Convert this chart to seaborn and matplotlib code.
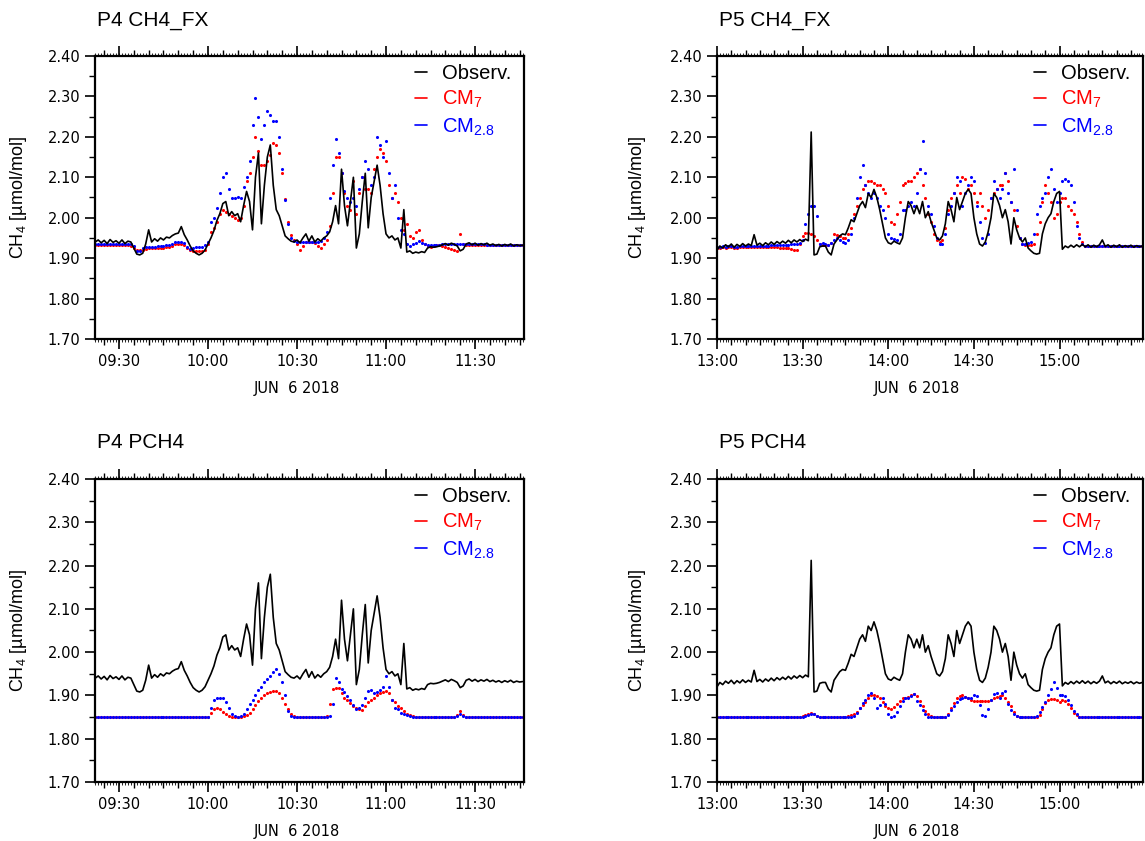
import pandas as pd
import matplotlib
matplotlib.use('Agg')
import matplotlib.pyplot as plt
import matplotlib.dates as mdates
from matplotlib.lines import Line2D
import seaborn as sns

sns.set_style('ticks')
plt.rcParams['font.family'] = ['Liberation Sans', 'DejaVu Sans']
plt.rcParams['mathtext.fontset'] = 'custom'
plt.rcParams['mathtext.rm'] = 'Liberation Sans'
for k in ('text.color', 'axes.labelcolor', 'xtick.color', 'ytick.color', 'axes.edgecolor'):
    plt.rcParams[k] = 'black'

p4_obs = [1.940, 1.945, 1.938, 1.944, 1.936, 1.946, 1.939, 1.943,
          1.937, 1.945, 1.936, 1.942, 1.940, 1.925, 1.910, 1.908, 1.912, 1.935,
          1.970, 1.940, 1.948, 1.942, 1.950, 1.945, 1.952, 1.950, 1.956, 1.960,
          1.962, 1.978, 1.958, 1.945, 1.930, 1.918, 1.912, 1.908, 1.912, 1.920,
          1.935, 1.950, 1.968, 1.993, 2.010, 2.035, 2.040, 2.005, 2.015, 2.005,
          2.010, 1.990, 2.030, 2.065, 2.040, 1.970, 2.100, 2.160, 1.985, 2.080,
          2.150, 2.180, 2.080, 2.020, 2.005, 1.980, 1.955, 1.948, 1.942, 1.940,
          1.945, 1.938, 1.950, 1.960, 1.942, 1.955, 1.940, 1.948, 1.942, 1.950,
          1.955, 1.965, 1.990, 2.030, 1.985, 2.120, 2.030, 1.980, 2.040, 2.100,
          1.925, 1.960, 2.040, 2.110, 1.975, 2.050, 2.090, 2.130, 2.080, 2.010,
          1.960, 1.950, 1.955, 1.945, 1.950, 1.925, 2.020, 1.915, 1.918, 1.912,
          1.915, 1.913, 1.916, 1.914, 1.925, 1.928, 1.927, 1.928, 1.930, 1.933,
          1.936, 1.932, 1.937, 1.934, 1.930, 1.918, 1.922, 1.935, 1.938, 1.933,
          1.937, 1.932, 1.936, 1.933, 1.937, 1.932, 1.935, 1.931, 1.934, 1.930,
          1.934, 1.931, 1.935, 1.930, 1.933, 1.931, 1.932]

p4_fx_cm7 = [1.933] * 8 + [
    1.933, 1.933, 1.932, 1.932, 1.930, 1.925, 1.920, 1.919, 1.921, 1.923,
    1.924, 1.924, 1.924, 1.924, 1.925, 1.926, 1.927, 1.928, 1.930, 1.934,
    1.935, 1.935, 1.933, 1.925, 1.919, 1.917, 1.917, 1.917, 1.918, 1.920,
    1.935, 1.965, 1.975, 1.990, 2.010, 2.020, 2.015, 2.010, 2.005, 2.000,
    1.995, 2.000, 2.030, 2.090, 2.110, 2.150, 2.199, 2.165, 2.130, 2.130,
    2.140, 2.155, 2.186, 2.180, 2.160, 2.110, 2.047, 1.990, 1.958, 1.945,
    1.935, 1.920, 1.930, 1.940, 1.940, 1.940, 1.938, 1.930, 1.925, 1.935,
    1.945, 1.980, 2.060, 2.150, 2.150, 2.110, 2.060, 2.030, 2.020, 2.090,
    2.010, 2.060, 2.100, 2.070, 2.070, 2.060, 2.120, 2.150, 2.170, 2.160,
    2.140, 2.080, 2.050, 2.060, 2.040, 2.000, 1.970, 1.985, 1.955, 1.950,
    1.965, 1.970, 1.945, 1.935, 1.930, 1.928, 1.930, 1.932, 1.932, 1.930,
    1.928, 1.925, 1.922, 1.920, 1.918, 1.960, 1.935, 1.933, 1.933, 1.932] + [1.932] * 17

p4_fx_cm28 = [1.936, 1.936, 1.935, 1.935, 1.936, 1.935, 1.935, 1.935,
              1.935, 1.935, 1.935, 1.935, 1.934, 1.930, 1.918, 1.917, 1.925, 1.928,
              1.928, 1.928, 1.928, 1.929, 1.930, 1.931, 1.932, 1.933, 1.935, 1.940,
              1.940, 1.940, 1.938, 1.928, 1.922, 1.925, 1.928, 1.928, 1.928, 1.932,
              1.940, 1.990, 2.000, 2.025, 2.060, 2.100, 2.110, 2.070, 2.050, 2.050,
              2.052, 2.050, 2.075, 2.100, 2.140, 2.230, 2.297, 2.250, 2.195, 2.230,
              2.265, 2.255, 2.240, 2.240, 2.200, 2.120, 2.045, 1.985, 1.950, 1.942,
              1.940, 1.940, 1.939, 1.940, 1.940, 1.940, 1.939, 1.940, 1.942, 1.950,
              1.965, 2.050, 2.130, 2.195, 2.160, 2.110, 2.065, 2.050, 2.040, 2.050,
              2.030, 2.070, 2.100, 2.140, 2.120, 2.080, 2.100, 2.200, 2.180, 2.150,
              2.190, 2.110, 2.050, 2.080, 2.000, 1.970, 1.960, 1.935, 1.930, 1.935,
              1.938, 1.942, 1.938, 1.935, 1.933, 1.932, 1.932, 1.932, 1.933, 1.934,
              1.935, 1.935, 1.935, 1.934, 1.934, 1.935, 1.936, 1.936, 1.935, 1.935,
              1.935, 1.934, 1.934, 1.934, 1.933, 1.933, 1.933, 1.933, 1.933, 1.933,
              1.933, 1.932, 1.932, 1.932, 1.932, 1.932, 1.932]

p4_p_cm7 = [1.85] * 39 + [
    1.860, 1.868, 1.870, 1.868, 1.862, 1.857, 1.853, 1.851, 1.850,
    1.850, 1.851, 1.852, 1.855, 1.860, 1.868, 1.878, 1.888, 1.895, 1.900,
    1.905, 1.908, 1.910, 1.910, 1.905, 1.895, 1.880, 1.868, 1.858, 1.852] + [1.85] * 10 + [
    1.852, 1.880, 1.914, 1.918, 1.917, 1.905, 1.895, 1.890, 1.883, 1.875,
    1.870, 1.868, 1.866, 1.876, 1.885, 1.890, 1.895, 1.900, 1.905, 1.908,
    1.910, 1.905, 1.890, 1.885, 1.875, 1.870, 1.865, 1.858, 1.855, 1.852,
    1.851] + [1.85] * 13 + [1.855, 1.865, 1.855] + [1.85] * 20

p4_p_cm28 = [1.85] * 39 + [
    1.870, 1.890, 1.895, 1.895, 1.893, 1.885, 1.870, 1.857, 1.852,
    1.850, 1.852, 1.858, 1.868, 1.880, 1.890, 1.900, 1.912, 1.920, 1.930,
    1.938, 1.945, 1.955, 1.962, 1.950, 1.930, 1.900, 1.865, 1.852, 1.850] + [1.85] * 10 + [
    1.851, 1.853, 1.880, 1.940, 1.930, 1.915, 1.908, 1.898, 1.890, 1.878,
    1.868, 1.870, 1.878, 1.893, 1.910, 1.912, 1.905, 1.908, 1.912, 1.920,
    1.945, 1.920, 1.890, 1.870, 1.868, 1.860, 1.858, 1.855, 1.852, 1.850] + [1.85] * 14 + [
    1.852, 1.858, 1.852] + [1.85] * 20

# P5 (13:00 .. 15:29, 1-min)
p5_obs = [1.920, 1.930, 1.925, 1.933, 1.928, 1.935, 1.927, 1.934, 1.929, 1.936,
          1.930, 1.935, 1.931, 1.958, 1.932, 1.937, 1.931, 1.938, 1.933, 1.940,
          1.934, 1.941, 1.936, 1.942, 1.937, 1.944, 1.938, 1.945, 1.940, 1.946,
          1.941, 1.947, 1.943, 2.212, 1.908, 1.910, 1.928, 1.930, 1.930, 1.915,
          1.908, 1.935, 1.945, 1.955, 1.960, 1.958, 1.975, 1.995, 1.990, 2.010,
          2.030, 2.040, 2.025, 2.060, 2.050, 2.070, 2.050, 2.020, 1.985, 1.950,
          1.938, 1.935, 1.942, 1.938, 1.935, 1.950, 2.000, 2.040, 2.030, 2.010,
          2.030, 2.010, 2.040, 2.000, 2.015, 1.990, 1.970, 1.950, 1.945, 1.955,
          1.985, 2.040, 2.020, 1.990, 2.050, 2.020, 2.040, 2.060, 2.070, 2.060,
          2.000, 1.960, 1.935, 1.930, 1.940, 1.965, 2.000, 2.060, 2.050, 2.030,
          2.000, 2.020, 1.990, 1.935, 2.000, 1.970, 1.950, 1.940, 1.950, 1.925,
          1.918, 1.912, 1.910, 1.912, 1.960, 1.985, 2.000, 2.010, 2.040, 2.060,
          2.065, 1.922, 1.930, 1.926, 1.932, 1.927, 1.933, 1.928, 1.934, 1.928,
          1.933, 1.927, 1.932, 1.928, 1.933, 1.945, 1.929, 1.933, 1.927, 1.932,
          1.928, 1.933, 1.927, 1.931, 1.928, 1.932, 1.927, 1.931, 1.928, 1.930]

p5_fx_cm7 = [1.926, 1.926, 1.927, 1.926, 1.927, 1.927, 1.926, 1.926, 1.927, 1.927,
             1.927, 1.927, 1.928, 1.927, 1.927, 1.928, 1.928, 1.928, 1.927, 1.927,
             1.927, 1.927, 1.926, 1.926, 1.925, 1.924, 1.922, 1.920, 1.920, 1.935,
             1.955, 1.962, 1.963, 1.960, 1.955, 1.945, 1.935, 1.933, 1.933, 1.933,
             1.938, 1.960, 1.958, 1.955, 1.950, 1.950, 1.960, 1.975, 2.010, 2.030,
             2.050, 2.070, 2.080, 2.090, 2.090, 2.085, 2.080, 2.080, 2.070, 2.060,
             2.030, 1.990, 1.985, 2.010, 2.040, 2.080, 2.085, 2.090, 2.090, 2.100,
             2.110, 2.120, 2.080, 2.050, 2.010, 1.990, 1.960, 1.945, 1.940, 1.945,
             1.975, 2.020, 2.050, 2.060, 2.080, 2.060, 2.100, 2.095, 2.070, 2.080,
             2.060, 2.040, 2.060, 2.030, 2.000, 2.020, 2.050, 2.060, 2.070, 2.080,
             2.080, 2.110, 2.090, 2.040, 2.020, 1.980, 1.950, 1.935, 1.933, 1.933,
             1.933, 1.935, 1.960, 1.990, 2.040, 2.080, 2.060, 2.040, 2.000, 2.010,
             2.040, 2.050, 2.050, 2.030, 2.020, 2.010, 1.990, 1.960, 1.940, 1.930] + [1.929] * 20

p5_fx_cm28 = [1.928, 1.928, 1.929, 1.928, 1.929, 1.929, 1.928, 1.928, 1.929, 1.929,
              1.929, 1.930, 1.930, 1.929, 1.929, 1.930, 1.930, 1.931, 1.931, 1.932,
              1.932, 1.932, 1.933, 1.933, 1.933, 1.933, 1.934, 1.934, 1.935, 1.938,
              1.945, 1.985, 2.010, 2.030, 2.030, 2.005, 1.935, 1.938, 1.935, 1.933,
              1.938, 1.945, 1.950, 1.945, 1.940, 1.938, 1.945, 1.960, 2.000, 2.050,
              2.100, 2.130, 2.080, 2.060, 2.050, 2.060, 2.050, 2.030, 2.020, 2.000,
              1.960, 1.950, 1.948, 1.945, 1.960, 2.020, 2.020, 2.030, 2.040, 2.030,
              2.060, 2.120, 2.190, 2.110, 2.030, 2.010, 1.980, 1.950, 1.935, 1.935,
              1.960, 2.010, 2.030, 2.060, 2.100, 2.090, 2.030, 2.060, 2.080, 2.100,
              2.090, 2.030, 1.990, 1.950, 1.938, 1.960, 2.050, 2.090, 2.070, 2.050,
              2.070, 2.110, 2.060, 2.040, 2.120, 2.020, 1.950, 1.935, 1.935, 1.937,
              1.940, 1.960, 2.010, 2.030, 2.050, 2.060, 2.100, 2.120, 2.070, 2.040,
              2.060, 2.090, 2.095, 2.090, 2.080, 2.040, 1.980, 1.950, 1.935, 1.930] + [1.929] * 20

p5_p_cm7 = [1.85] * 30 + [
    1.852, 1.855, 1.858, 1.860, 1.858, 1.853, 1.851, 1.850, 1.850, 1.850] + [1.85] * 6 + [
    1.852, 1.855, 1.858, 1.862,
    1.870, 1.878, 1.885, 1.895, 1.900, 1.900, 1.898, 1.895, 1.885, 1.875,
    1.870, 1.868, 1.873, 1.880, 1.888, 1.893, 1.895, 1.897, 1.900, 1.903,
    1.898, 1.888, 1.876, 1.865, 1.857, 1.852, 1.850, 1.850, 1.850, 1.850,
    1.851, 1.858, 1.870, 1.883, 1.893, 1.898, 1.900, 1.897, 1.893, 1.890,
    1.888, 1.888, 1.888, 1.888, 1.887, 1.888, 1.890, 1.893, 1.896, 1.899,
    1.900, 1.895, 1.885, 1.875, 1.862, 1.853, 1.850, 1.850, 1.850, 1.850,
    1.850, 1.850, 1.851, 1.855, 1.868, 1.882, 1.890, 1.892, 1.892, 1.890,
    1.885, 1.890, 1.888, 1.880, 1.870, 1.860, 1.854, 1.851, 1.850, 1.850] + [1.85] * 20

p5_p_cm28 = [1.85] * 30 + [
    1.851, 1.853, 1.855, 1.858, 1.857, 1.852, 1.850, 1.850, 1.850, 1.850] + [1.85] * 8 + [
    1.852, 1.860, 1.872, 1.882, 1.890, 1.900, 1.905, 1.893, 1.870, 1.878, 1.895, 1.880,
    1.858, 1.850, 1.852, 1.862, 1.876, 1.888, 1.893, 1.895, 1.898, 1.903,
    1.888, 1.878, 1.866, 1.856, 1.851, 1.850, 1.850, 1.850, 1.850, 1.850,
    1.851, 1.855, 1.866, 1.876, 1.885, 1.892, 1.895, 1.897, 1.893, 1.895,
    1.902, 1.898, 1.878, 1.855, 1.853, 1.868, 1.890, 1.904, 1.906, 1.895,
    1.906, 1.910, 1.880, 1.866, 1.858, 1.852, 1.850, 1.850, 1.850, 1.850,
    1.850, 1.850, 1.852, 1.861, 1.873, 1.885, 1.900, 1.915, 1.931, 1.917,
    1.900, 1.900, 1.898, 1.890, 1.878, 1.865, 1.856, 1.851, 1.850, 1.850] + [1.85] * 20

for arr in (p4_fx_cm7, p4_fx_cm28, p4_p_cm7, p4_p_cm28):
    assert len(arr) == len(p4_obs), len(arr)
for arr in (p5_fx_cm7, p5_fx_cm28, p5_p_cm7, p5_p_cm28):
    assert len(arr) == len(p5_obs), len(arr)

p4_time = pd.date_range('2018-06-06 09:22', periods=len(p4_obs), freq='1min')
p5_time = pd.date_range('2018-06-06 13:00', periods=len(p5_obs), freq='1min')

labels = ['Observ.', 'CM$_\\mathregular{7}$', 'CM$_\\mathregular{2.8}$']
colors = ['black', 'red', 'blue']

W, H = 1145, 841
fig = plt.figure(figsize=(W / 100, H / 100), dpi=100)


def add_panel(px, py, pw, ph):
    return fig.add_axes([px / W, 1 - (py + ph) / H, pw / W, ph / H])


def draw(ax, t, obs, cm7, cm28, xlim, title, pw, ph, ylab_off):
    sns.lineplot(x=t, y=obs, ax=ax, color='black', lw=1.2, estimator=None, sort=False)
    sns.scatterplot(x=t, y=cm7, ax=ax, color='red', s=5, marker='o', linewidth=0)
    sns.scatterplot(x=t, y=cm28, ax=ax, color='blue', s=5, marker='o', linewidth=0)

    ax.set_xlim(pd.Timestamp(xlim[0]), pd.Timestamp(xlim[1]))
    ax.set_ylim(1.70, 2.40)
    ax.set_yticks([1.70, 1.80, 1.90, 2.00, 2.10, 2.20, 2.30, 2.40])
    ax.yaxis.set_major_formatter(matplotlib.ticker.FormatStrFormatter('%.2f'))
    ax.yaxis.set_minor_locator(matplotlib.ticker.MultipleLocator(0.05))
    ax.xaxis.set_major_locator(mdates.MinuteLocator(byminute=[0, 30]))
    ax.xaxis.set_minor_locator(mdates.MinuteLocator(byminute=range(0, 60, 5)))
    ax.xaxis.set_major_formatter(mdates.DateFormatter('%H:%M'))

    ax.tick_params(axis='both', which='major', direction='out', length=7, width=1.2,
                   labelsize=10.5, labelfontfamily='DejaVu Sans', top=True, right=False)
    ax.tick_params(axis='both', which='minor', direction='out', length=4, width=1.0,
                   top=True, right=False)
    for s in ax.spines.values():
        s.set_linewidth(1.6)

    # fine one-minute ticks along the time axis
    for side in ('bottom', 'top'):
        sec = ax.secondary_xaxis(side)
        sec.xaxis.set_major_locator(mdates.MinuteLocator())
        sec.tick_params(length=2, width=0.6, labelbottom=False, labeltop=False)
        sec.spines[side].set_visible(False)

    ax.set_xlabel('JUN  6 2018', fontsize=10.5, family=['DejaVu Sans'])
    ax.xaxis.set_label_coords(0.47, -42 / ph)
    ax.set_ylabel('CH$_\\mathregular{4}$ [µmol/mol]', fontsize=13)
    ax.yaxis.set_label_coords(-ylab_off / pw, 0.5)

    handles = [Line2D([], [], color=c, lw=1.2) for c in colors]
    ax.legend(handles, labels, loc='upper right', bbox_to_anchor=(1.0, 1.0 + 5 / ph),
              frameon=False, fontsize=14.5, handlelength=0.6, handletextpad=0.7,
              labelspacing=0.3, borderaxespad=0.25, labelcolor=colors)

    bb = ax.get_position()
    fig.text(bb.x0 + 2 / W, bb.y1 + 36 / H, title, fontsize=15, va='center', ha='left')


ax1 = add_panel(95, 56, 429, 283)
ax2 = add_panel(717, 56, 426, 283)
ax3 = add_panel(95, 479, 429, 303)
ax4 = add_panel(717, 479, 426, 303)

p4_lim = ('2018-06-06 09:21:55', '2018-06-06 11:46:30')
p5_lim = ('2018-06-06 13:00:00', '2018-06-06 15:29:15')

draw(ax1, p4_time, p4_obs, p4_fx_cm7, p4_fx_cm28, p4_lim, 'P4 CH4_FX', 429, 283, 66)
draw(ax2, p5_time, p5_obs, p5_fx_cm7, p5_fx_cm28, p5_lim, 'P5 CH4_FX', 426, 283, 69)
draw(ax3, p4_time, p4_obs, p4_p_cm7, p4_p_cm28, p4_lim, 'P4 PCH4', 429, 303, 66)
draw(ax4, p5_time, p5_obs, p5_p_cm7, p5_p_cm28, p5_lim, 'P5 PCH4', 426, 303, 69)

fig.savefig('out.png', dpi=100)
